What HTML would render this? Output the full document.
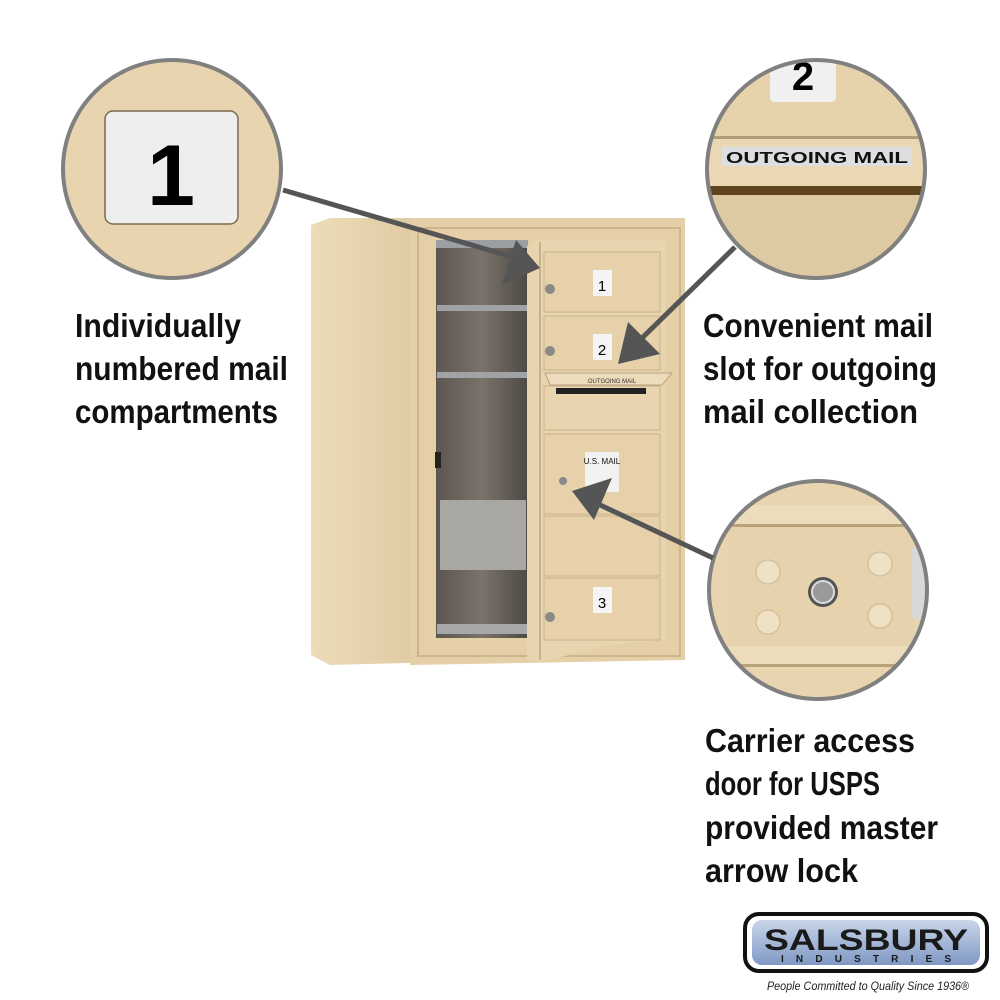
<!DOCTYPE html>
<html><head><meta charset="utf-8"><style>
html,body{margin:0;padding:0;background:#fff;}
svg{display:block;}
.t{font-family:"Liberation Sans Narrow","Liberation Sans",sans-serif;font-weight:bold;font-size:33px;fill:#111;}
.tag{font-family:"Liberation Sans Narrow","Liberation Sans",sans-serif;font-style:italic;font-size:12px;fill:#222;}
</style></head><body>
<svg width="1000" height="1000" viewBox="0 0 1000 1000" xmlns="http://www.w3.org/2000/svg">
<defs>
<clipPath id="c2"><circle cx="816" cy="169" r="108"/></clipPath>
<clipPath id="c3"><circle cx="818" cy="590" r="108"/></clipPath>
<linearGradient id="side" x1="0" x2="1"><stop offset="0" stop-color="#ecdcb8"/><stop offset="1" stop-color="#dcc79f"/></linearGradient>
<linearGradient id="inside" x1="0" x2="1"><stop offset="0" stop-color="#5c5650"/><stop offset="0.5" stop-color="#7a736b"/><stop offset="1" stop-color="#4e4944"/></linearGradient>
<linearGradient id="logo" x1="0" y1="0" x2="0" y2="1"><stop offset="0" stop-color="#c9d6ea"/><stop offset="1" stop-color="#7f98c4"/></linearGradient>
</defs>

<circle cx="172" cy="169" r="109" fill="#e8d4ae" stroke="#808080" stroke-width="4"/>
<rect x="105" y="111" width="133" height="113" rx="8" fill="#eeeeee" stroke="#7a6a50" stroke-width="1.5"/>
<text x="171" y="205" text-anchor="middle" font-family="Liberation Sans" font-weight="bold" font-size="86" fill="#000">1</text>

<g clip-path="url(#c2)">
<rect x="700" y="55" width="240" height="240" fill="#e6d2ab"/>
<rect x="770" y="50" width="66" height="52" rx="4" fill="#f0f0f0"/>
<text x="803" y="90" text-anchor="middle" font-family="Liberation Sans" font-weight="bold" font-size="40" fill="#000">2</text>
<rect x="700" y="136" width="240" height="3" fill="#b09c78"/>
<rect x="700" y="139" width="240" height="50" fill="#ead8b4"/>
<rect x="700" y="186" width="240" height="9" fill="#5e4520"/>
<rect x="722" y="147" width="190" height="19" rx="2" fill="#dcdee0"/>
<text x="817" y="163" text-anchor="middle" font-family="Liberation Sans" font-weight="bold" font-size="15.5" fill="#111" textLength="182" lengthAdjust="spacingAndGlyphs">OUTGOING MAIL</text>
<rect x="700" y="195" width="240" height="100" fill="#ddc9a2"/>
</g>
<circle cx="816" cy="169" r="109" fill="none" stroke="#808080" stroke-width="4"/>

<g clip-path="url(#c3)">
<rect x="700" y="475" width="240" height="240" fill="#e8d5b0"/>
<rect x="700" y="505" width="240" height="20" fill="#eddcbb"/>
<rect x="700" y="524" width="240" height="3" fill="#b8a27c"/>
<rect x="730" y="527" width="185" height="120" fill="#e6d2ac"/>
<rect x="700" y="646" width="240" height="20" fill="#eddcbb"/>
<rect x="700" y="664" width="240" height="3" fill="#b8a27c"/>
<rect x="912" y="545" width="20" height="75" rx="6" fill="#d8d8d8"/>
<circle cx="768" cy="572" r="12" fill="#efe2c4" stroke="#cbb68f"/>
<circle cx="880" cy="564" r="12" fill="#efe2c4" stroke="#cbb68f"/>
<circle cx="768" cy="622" r="12" fill="#efe2c4" stroke="#cbb68f"/>
<circle cx="880" cy="616" r="12" fill="#efe2c4" stroke="#cbb68f"/>
<circle cx="823" cy="592" r="15" fill="#555" />
<circle cx="823" cy="592" r="11" fill="#9a9a9a" stroke="#ddd" stroke-width="2"/>
</g>
<circle cx="818" cy="590" r="109" fill="none" stroke="#808080" stroke-width="4"/>

<polygon points="311,225 330,218 440,218 440,662 330,665 311,655" fill="url(#side)"/>
<polygon points="410,218 685,218 685,660 410,665" fill="#e4cfa6"/>
<rect x="418" y="228" width="262" height="428" fill="none" stroke="#cdb68c" stroke-width="2"/>
<rect x="436" y="240" width="92" height="398" fill="url(#inside)"/>
<rect x="436" y="240" width="92" height="8" fill="#9b9ea2"/>
<rect x="437" y="305" width="90" height="6" fill="#a0a2a5"/>
<rect x="437" y="372" width="90" height="6" fill="#a0a2a5"/>
<rect x="440" y="500" width="86" height="70" fill="#a8a7a4"/>
<rect x="437" y="624" width="90" height="10" fill="#a6a8aa"/>
<rect x="435" y="452" width="6" height="16" fill="#222"/>
<polygon points="527,246 540,240 665,240 665,640 610,645 540,662 527,660" fill="#e8d4ae"/>
<line x1="540" y1="242" x2="540" y2="660" stroke="#c8b08a" stroke-width="2"/>
<rect x="544" y="252" width="116" height="60" fill="#e6d1aa" stroke="#c9b28a"/>
<rect x="544" y="316" width="116" height="54" fill="#e6d1aa" stroke="#c9b28a"/>
<polygon points="545,373 672,373 662,385 550,385" fill="#eddcbc" stroke="#b9a37c"/>
<text x="612" y="383" text-anchor="middle" font-family="Liberation Sans" font-size="6" fill="#333">OUTGOING MAIL</text>
<rect x="556" y="388" width="90" height="6" fill="#222"/>
<rect x="544" y="386" width="116" height="44" fill="none" stroke="#c9b28a"/>
<rect x="544" y="434" width="116" height="80" fill="#e6d1aa" stroke="#c9b28a"/>
<rect x="585" y="452" width="34" height="40" fill="#f2f2f2"/>
<text x="602" y="464" text-anchor="middle" font-family="Liberation Sans" font-size="8" fill="#111">U.S. MAIL</text>
<rect x="544" y="516" width="116" height="60" fill="#e6d1aa" stroke="#c9b28a"/>
<rect x="544" y="578" width="116" height="62" fill="#e6d1aa" stroke="#c9b28a"/>
<rect x="593" y="270" width="19" height="26" fill="#f4f4f4"/><text x="602" y="291" text-anchor="middle" font-family="Liberation Sans" font-size="15" fill="#000">1</text>
<rect x="593" y="334" width="19" height="26" fill="#f4f4f4"/><text x="602" y="355" text-anchor="middle" font-family="Liberation Sans" font-size="15" fill="#000">2</text>
<rect x="593" y="587" width="19" height="26" fill="#f4f4f4"/><text x="602" y="608" text-anchor="middle" font-family="Liberation Sans" font-size="15" fill="#000">3</text>
<circle cx="550" cy="289" r="5" fill="#8a8a8a"/><circle cx="550" cy="351" r="5" fill="#8a8a8a"/>
<circle cx="563" cy="481" r="4" fill="#8a8a8a"/><circle cx="550" cy="617" r="5" fill="#8a8a8a"/>

<g stroke="#555" stroke-width="5" fill="#555">
<line x1="283" y1="190" x2="530" y2="262"/>
<line x1="735" y1="247" x2="640" y2="340"/>
<line x1="713" y1="558" x2="598" y2="504"/>
</g>
<g fill="#555">
<polygon points="540,268 516,240 502,285"/>
<polygon points="618,364 660,354 628,322"/>
<polygon points="572,491 612,478 594,520"/>
</g>

<text class="t" x="75" y="337" textLength="166" lengthAdjust="spacingAndGlyphs">Individually</text>
<text class="t" x="75" y="380" textLength="213" lengthAdjust="spacingAndGlyphs">numbered mail</text>
<text class="t" x="75" y="423" textLength="203" lengthAdjust="spacingAndGlyphs">compartments</text>
<text class="t" x="703" y="337" textLength="230" lengthAdjust="spacingAndGlyphs">Convenient mail</text>
<text class="t" x="703" y="380" textLength="234" lengthAdjust="spacingAndGlyphs">slot for outgoing</text>
<text class="t" x="703" y="423" textLength="215" lengthAdjust="spacingAndGlyphs">mail collection</text>
<text class="t" x="705" y="752" textLength="210" lengthAdjust="spacingAndGlyphs">Carrier access</text>
<text class="t" x="705" y="795" textLength="175" lengthAdjust="spacingAndGlyphs">door for USPS</text>
<text class="t" x="705" y="839" textLength="233" lengthAdjust="spacingAndGlyphs">provided master</text>
<text class="t" x="705" y="882" textLength="153" lengthAdjust="spacingAndGlyphs">arrow lock</text>

<rect x="745" y="914" width="242" height="57" rx="14" fill="#fff" stroke="#111" stroke-width="4"/>
<rect x="752" y="920" width="228" height="45" rx="10" fill="url(#logo)"/>
<text x="866" y="950" text-anchor="middle" font-family="Liberation Sans" font-weight="bold" font-size="30" fill="#1a1a1a" textLength="204" lengthAdjust="spacingAndGlyphs">SALSBURY</text>
<text x="866" y="962" text-anchor="middle" font-family="Liberation Sans" font-weight="bold" font-size="10" fill="#1a1a1a" textLength="170" lengthAdjust="spacing">INDUSTRIES</text>
<text class="tag" x="767" y="990" textLength="202" lengthAdjust="spacingAndGlyphs">People Committed to Quality Since 1936®</text>
</svg>
</body></html>
